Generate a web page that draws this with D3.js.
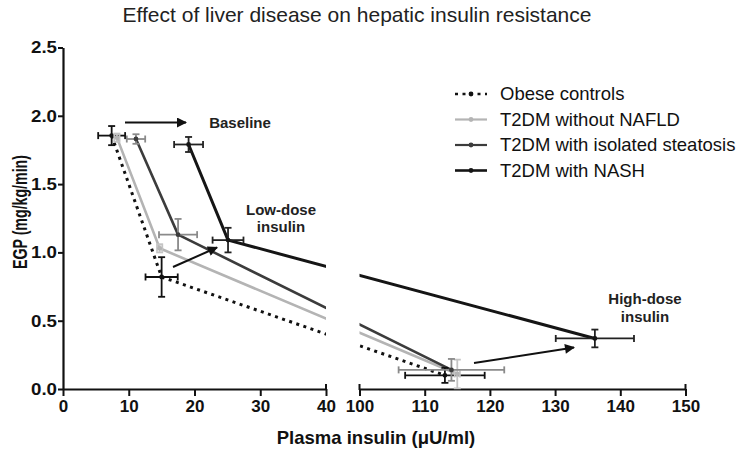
<!DOCTYPE html>
<html><head><meta charset="utf-8">
<script src="https://cdn.jsdelivr.net/npm/d3@7"></script>
<style>body{margin:0;background:#fff}svg{display:block}text{font-family:"Liberation Sans",Arial,sans-serif}</style>
</head><body>
<svg id="c" width="742" height="451"></svg>
<script>
// ---- data ----
const groups = ["Obese controls","T2DM without NAFLD","T2DM with isolated steatosis","T2DM with NASH"];
const obeseX = [7.4, 15.0, 113.1],  obeseY = [1.855, 0.82, 0.10];
const obeseXErr = [2.05, 2.45, 6.1], obeseYErr = [0.07, 0.145, 0.055];
const noNafldX = [8.2, 14.7, 115.0], noNafldY = [1.84, 1.03, 0.11];
const noNafldXErr = [0.4, 0.4, 0.4], noNafldYErr = [0.03, 0.03, 0.105];
const steatX = [11.1, 17.5, 114.1], steatY = [1.83, 1.13, 0.14];
const steatXErr = [1.4, 2.9, 8.1], steatYErr = [0.035, 0.115, 0.08];
const nashX = [19.1, 25.1, 136.1], nashY = [1.79, 1.09, 0.37];
const nashXErr = [2.2, 2.35, 6.0], nashYErr = [0.055, 0.09, 0.065];
const xTicksLeft = [0,10,20,30,40];
const xTicksRight = [100,110,120,130,140,150];
const yTicks = [0,0.5,1.0,1.5,2.0,2.5];

const svg = d3.select("#c");
const xL = d3.scaleLinear().domain([0,40]).range([63,326]);
const xR = d3.scaleLinear().domain([100,150]).range([359.5,685.5]);
const xp = v => v <= 40 ? xL(v) : xR(v);
const y = d3.scaleLinear().domain([0,2.5]).range([389,47.5]);

// clip for broken axis
const defs = svg.append("defs");
const cp = defs.append("clipPath").attr("id","brk");
cp.append("rect").attr("x",xL(0)).attr("y",0).attr("width",xL(40)-xL(0)).attr("height",451);
cp.append("rect").attr("x",xR(100)).attr("y",0).attr("width",742-xR(100)).attr("height",451);
const ah = defs.append("marker").attr("id","ah").attr("viewBox","0 0 10 10").attr("refX",9).attr("refY",5)
  .attr("markerWidth",6).attr("markerHeight",5).attr("orient","auto").attr("markerUnits","strokeWidth");
ah.append("path").attr("d","M0,0L10,5L0,10z").attr("fill","#111");

// title
svg.append("text").attr("x",357).attr("y",22).attr("text-anchor","middle").attr("font-size",21).attr("fill","#222")
  .text("Effect of liver disease on hepatic insulin resistance");

// axes
const axY = svg.append("g").attr("transform","translate(63,0)")
  .call(d3.axisLeft(y).tickValues(yTicks).tickSize(5).tickSizeOuter(0).tickFormat(d3.format(".1f")));
const axL = svg.append("g").attr("transform","translate(0,389)")
  .call(d3.axisBottom(xL).tickValues(xTicksLeft).tickSize(7).tickSizeOuter(0));
const axR = svg.append("g").attr("transform","translate(0,389)")
  .call(d3.axisBottom(xR).tickValues(xTicksRight).tickSize(7).tickSizeOuter(0));
[axY,axL,axR].forEach(a=>{
  a.select(".domain").attr("stroke","#111").attr("stroke-width",2.2);
  a.selectAll(".tick line").attr("stroke","#111").attr("stroke-width",2);
  a.selectAll(".tick text").attr("font-size",17).attr("font-weight","bold").attr("fill","#111")
    .attr("font-family","Liberation Sans, Arial, sans-serif");
});
axY.selectAll(".tick text").attr("x",-6).attr("textLength",26).attr("lengthAdjust","spacingAndGlyphs");
axL.selectAll(".tick text").attr("y",11);
axR.selectAll(".tick text").attr("y",11);
// end caps on x axis pieces
[xL(40), xR(100), xR(150)].forEach(px=>{
  svg.append("line").attr("x1",px).attr("x2",px).attr("y1",384).attr("y2",390).attr("stroke","#111").attr("stroke-width",2);
});

// axis titles
svg.append("text").attr("transform","translate(27,212) rotate(-90)").attr("text-anchor","middle")
  .attr("font-size",19.5).attr("font-weight","bold").attr("fill","#111")
  .attr("textLength",114).attr("lengthAdjust","spacingAndGlyphs").text("EGP (mg/kg/min)");
svg.append("text").attr("x",376).attr("y",444).attr("text-anchor","middle")
  .attr("font-size",18.5).attr("font-weight","bold").attr("fill","#111").text("Plasma insulin (\u03bcU/ml)");

// series
const series = [
  {name:groups[0], xs:obeseX, ys:obeseY, xe:obeseXErr, ye:obeseYErr, color:"#111", ecolor:"#111", w:3, dash:"3,4.5"},
  {name:groups[1], xs:noNafldX, ys:noNafldY, xe:noNafldXErr, ye:noNafldYErr, color:"#b4b4b4", ecolor:"#c4c4c4", w:2.6, dash:null},
  {name:groups[2], xs:steatX, ys:steatY, xe:steatXErr, ye:steatYErr, color:"#3c3c3c", ecolor:"#8a8a8a", w:2.6, dash:null},
  {name:groups[3], xs:nashX, ys:nashY, xe:nashXErr, ye:nashYErr, color:"#151515", ecolor:"#222", w:3, dash:null}
];
const plot = svg.append("g").attr("clip-path","url(#brk)");
const line = d3.line().x(d=>xp(d[0])).y(d=>y(d[1]));
series.forEach(s=>{
  const pts = s.xs.map((v,i)=>[v,s.ys[i]]);
  plot.append("path").attr("d",line(pts)).attr("fill","none").attr("stroke",s.color)
    .attr("stroke-width",s.w).attr("stroke-dasharray",s.dash).attr("stroke-linejoin","round");
});
const eb = svg.append("g");
const cap = 3.5;
series.forEach(s=>{
  s.xs.forEach((v,i)=>{
    const cx = xp(v), cy = y(s.ys[i]);
    const x1 = xp(v - s.xe[i]), x2 = xp(v + s.xe[i]);
    const y1 = y(s.ys[i] + s.ye[i]), y2 = y(s.ys[i] - s.ye[i]);
    const g = eb.append("g").attr("stroke",s.ecolor).attr("stroke-width",1.8);
    g.append("line").attr("x1",x1).attr("x2",x2).attr("y1",cy).attr("y2",cy);
    g.append("line").attr("x1",x1).attr("x2",x1).attr("y1",cy-cap).attr("y2",cy+cap);
    g.append("line").attr("x1",x2).attr("x2",x2).attr("y1",cy-cap).attr("y2",cy+cap);
    g.append("line").attr("x1",cx).attr("x2",cx).attr("y1",y1).attr("y2",y2);
    g.append("line").attr("x1",cx-cap).attr("x2",cx+cap).attr("y1",y1).attr("y2",y1);
    g.append("line").attr("x1",cx-cap).attr("x2",cx+cap).attr("y1",y2).attr("y2",y2);
    eb.append("circle").attr("cx",cx).attr("cy",cy).attr("r",2.4).attr("fill",s.color);
  });
});

// annotations
const ann = svg.append("g").attr("font-size",15).attr("font-weight","bold").attr("fill","#222").attr("text-anchor","middle");
ann.append("text").attr("x",240).attr("y",128).text("Baseline");
ann.append("text").attr("x",281).attr("y",215).text("Low-dose");
ann.append("text").attr("x",281).attr("y",232).text("insulin");
ann.append("text").attr("x",645).attr("y",304).text("High-dose");
ann.append("text").attr("x",645).attr("y",322).text("insulin");
const arrows = [[125,122.5,186,122.5],[173,267,217,247.5],[474,363,574,347.5]];
arrows.forEach(a=>{
  svg.append("line").attr("x1",a[0]).attr("y1",a[1]).attr("x2",a[2]).attr("y2",a[3])
    .attr("stroke","#111").attr("stroke-width",2).attr("marker-end","url(#ah)");
});

// legend
const lg = svg.append("g");
series.forEach((s,i)=>{
  const ly = 94 + i*25.5;
  lg.append("line").attr("x1",455).attr("x2",487).attr("y1",ly).attr("y2",ly).attr("stroke",s.color)
    .attr("stroke-width",s.w-0.4).attr("stroke-dasharray",s.dash);
  lg.append("circle").attr("cx",471).attr("cy",ly).attr("r",2.4).attr("fill",s.color);
  lg.append("text").attr("x",500).attr("y",ly).attr("dy","0.35em").attr("font-size",18.5).attr("fill","#111").text(s.name);
});
</script>
</body></html>
